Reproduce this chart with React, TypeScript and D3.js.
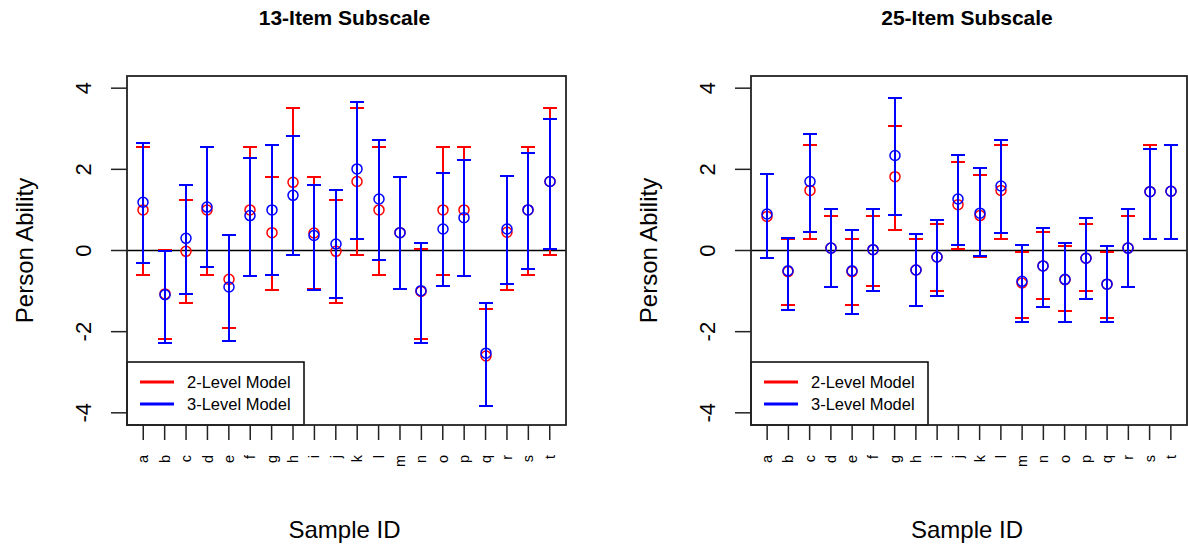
import React from "react";
import * as d3 from "d3";

const ids = ["a","b","c","d","e","f","g","h","i","j","k","l","m","n","o","p","q","r","s","t"];
const yTicks = [-4, -2, 0, 2, 4];

// 13-Item Subscale
const s13_l2_pt = [1.00,-1.07,-0.02,1.00,-0.71,1.00,0.44,1.68,0.43,-0.02,1.70,1.00,0.44,-1.01,1.00,1.00,-2.60,0.45,1.00,1.70];
const s13_l2_lo = [-0.60,-2.17,-1.30,-0.60,-1.90,-0.62,-0.97,-0.12,-0.95,-1.30,-0.12,-0.60,-0.94,-2.17,-0.60,-0.62,-3.82,-0.97,-0.60,-0.12];
const s13_l2_hi = [2.55,0.02,1.25,2.55,0.38,2.55,1.81,3.52,1.81,1.25,3.52,2.55,1.81,0.04,2.55,2.55,-1.43,1.84,2.55,3.52];
const s13_l3_pt = [1.19,-1.09,0.30,1.07,-0.90,0.86,1.00,1.36,0.37,0.16,2.01,1.27,0.44,-0.99,0.53,0.81,-2.53,0.53,1.00,1.70];
const s13_l3_lo = [-0.31,-2.27,-1.07,-0.41,-2.22,-0.62,-0.60,-0.12,-0.97,-1.17,0.28,-0.23,-0.94,-2.27,-0.87,-0.62,-3.82,-0.83,-0.46,0.03];
const s13_l3_hi = [2.64,0.00,1.62,2.55,0.38,2.28,2.59,2.83,1.62,1.49,3.65,2.73,1.81,0.18,1.90,2.23,-1.30,1.84,2.41,3.24];

// 25-Item Subscale
const s25_l2_pt = [0.84,-0.52,1.48,0.06,-0.52,0.02,1.82,-0.48,-0.16,1.13,0.86,1.48,-0.80,-0.38,-0.72,-0.19,-0.83,0.06,1.45,1.46];
const s25_l2_lo = [-0.19,-1.34,0.29,-0.90,-1.34,-0.87,0.51,-1.36,-1.01,0.03,-0.16,0.29,-1.67,-1.20,-1.48,-1.01,-1.67,-0.89,0.28,0.28];
const s25_l2_hi = [1.88,0.29,2.60,0.84,0.28,0.84,3.06,0.28,0.66,2.18,1.86,2.60,-0.03,0.46,0.10,0.65,-0.03,0.84,2.60,2.60];
const s25_l3_pt = [0.90,-0.50,1.70,0.06,-0.50,0.02,2.34,-0.48,-0.16,1.27,0.92,1.59,-0.76,-0.38,-0.71,-0.19,-0.83,0.06,1.45,1.46];
const s25_l3_lo = [-0.19,-1.46,0.46,-0.90,-1.57,-1.01,0.88,-1.36,-1.12,0.14,-0.14,0.42,-1.75,-1.38,-1.75,-1.20,-1.75,-0.89,0.28,0.28];
const s25_l3_hi = [1.88,0.32,2.87,1.02,0.50,1.02,3.75,0.41,0.74,2.36,2.03,2.73,0.14,0.55,0.18,0.80,0.10,1.02,2.51,2.60];

const legendLabels = ["2-Level Model", "3-Level Model"];
const colors = ["#FF0000", "#0000FF"];
const FONT = "'Liberation Sans', Arial, sans-serif";

type Series = { pt: number[]; lo: number[]; hi: number[] };

function Panel({ left, right, title, series }: { left: number; right: number; title: string; series: Series[] }) {
  const top = 76, bottom = 425;
  const x = d3.scaleLinear().domain([0.24, 20.76]).range([left, right]);
  const y = d3.scaleLinear().domain([-4.3, 4.3]).range([bottom, top]);
  const cx = (left + right) / 2;
  const cap = 7;
  return (
    <g>
      <text x={cx - 2} y={25} textAnchor="middle" fontFamily={FONT} fontWeight="bold" fontSize={21} fill="#000">{title}</text>
      {/* zero line */}
      <line x1={left} x2={right} y1={y(0)} y2={y(0)} stroke="#000" strokeWidth={1.5} />
      {series.map((s, si) => (
        <g key={si} stroke={colors[si]} fill="none">
          {ids.map((id, i) => {
            const xi = Math.round(x(i + 1));
            const ylo = Math.round(y(s.lo[i]));
            const yhi = Math.round(y(s.hi[i]));
            return (
              <g key={id}>
                <g shapeRendering="crispEdges">
                  <line x1={xi} x2={xi} y1={ylo} y2={yhi} strokeWidth={2} />
                  <line x1={xi - cap} x2={xi + cap} y1={ylo} y2={ylo} strokeWidth={2} />
                  <line x1={xi - cap} x2={xi + cap} y1={yhi} y2={yhi} strokeWidth={2} />
                </g>
                <circle cx={xi} cy={y(s.pt[i])} r={5} strokeWidth={1.5} fill="none" />
              </g>
            );
          })}
        </g>
      ))}
      {/* legend */}
      <g>
        <rect x={left} y={362} width={177} height={bottom - 362} fill="#fff" stroke="#000" strokeWidth={1.5} />
        {legendLabels.map((lab, i) => (
          <g key={lab}>
            <line x1={left + 13} x2={left + 47} y1={382 + i * 22} y2={382 + i * 22} stroke={colors[i]} strokeWidth={3} />
            <text x={left + 60} y={382 + i * 22} dy="0.36em" fontFamily={FONT} fontSize={16.5} fill="#000">{lab}</text>
          </g>
        ))}
      </g>
      {/* frame */}
      <rect x={left} y={top} width={right - left} height={bottom - top} fill="none" stroke="#222" strokeWidth={1.8} />
      {/* y axis */}
      {yTicks.map((t) => (
        <g key={t}>
          <line x1={left - 16} x2={left} y1={y(t)} y2={y(t)} stroke="#222" strokeWidth={1.5} />
          <text transform={`translate(${left - 44},${y(t)}) rotate(-90)`} textAnchor="middle" dy="0.36em" fontFamily={FONT} fontSize={22} fill="#000">{t}</text>
        </g>
      ))}
      {/* x axis */}
      {ids.map((id, i) => (
        <g key={id}>
          <line x1={x(i + 1)} x2={x(i + 1)} y1={bottom} y2={bottom + 15} stroke="#222" strokeWidth={1.5} />
          <text transform={`translate(${x(i + 1)},${bottom + 30}) rotate(-90)`} textAnchor="end" dy="0.35em" fontFamily={FONT} fontSize={14.5} fill="#000">{id}</text>
        </g>
      ))}
      <text x={cx - 2} y={538} textAnchor="middle" fontFamily={FONT} fontSize={24} fill="#000">Sample ID</text>
      <text transform={`translate(${left - 94},${(top + bottom) / 2}) rotate(-90)`} textAnchor="middle" fontFamily={FONT} fontSize={24} fill="#000">Person Ability</text>
    </g>
  );
}

export default function App() {
  const s13: Series[] = [
    { pt: s13_l2_pt, lo: s13_l2_lo, hi: s13_l2_hi },
    { pt: s13_l3_pt, lo: s13_l3_lo, hi: s13_l3_hi },
  ];
  const s25: Series[] = [
    { pt: s25_l2_pt, lo: s25_l2_lo, hi: s25_l2_hi },
    { pt: s25_l3_pt, lo: s25_l3_lo, hi: s25_l3_hi },
  ];
  return (
    <svg width={1188} height={550} style={{ position: "absolute", left: 0, top: 0, background: "#fff" }}>
      <rect x={0} y={0} width={1188} height={550} fill="#fff" />
      <Panel left={127} right={566} title="13-Item Subscale" series={s13} />
      <Panel left={751} right={1187} title="25-Item Subscale" series={s25} />
    </svg>
  );
}
